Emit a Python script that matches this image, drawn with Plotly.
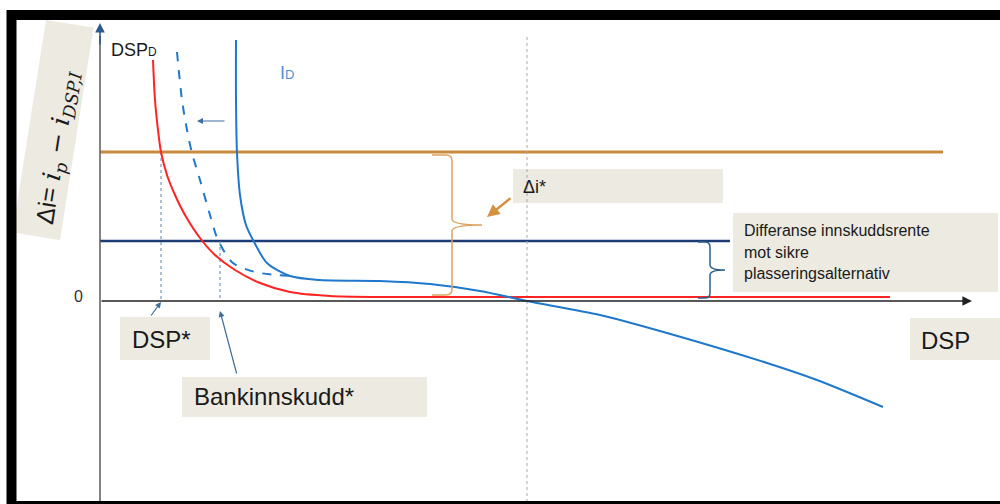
import plotly.graph_objects as go

# ---- data (DSP on x, Δi on y; arbitrary diagram units) ----
red_x = [53, 55, 58, 61, 67, 75, 85, 100, 115, 135, 160, 190, 230, 280, 790]
red_y = [241, 201, 171, 149, 126, 106, 86, 63, 46, 31, 18, 9, 5, 4, 4]
dash_x = [77, 82, 87, 92, 100, 110, 118, 133, 155, 177, 192]
dash_y = [249, 201, 171, 148, 121, 86, 61, 38, 29, 26, 25]
id_x = [136, 136, 137, 140, 146, 153, 167, 190, 220, 280, 330, 380, 427, 500, 567, 667, 717, 783]
id_y = [261, 201, 148, 106, 76, 61, 38, 25, 21, 20, 17, 10, 0, -14, -32, -62, -79, -106]
ip_level = 149
ip_end = 843
dep_level = 60
dep_end = 630
dsp_star = 61
bank_star = 120
mid_x = 427

X_RANGE = [-100, 900]
Y_RANGE = [-203, 301]

FONT = "Liberation Sans, Arial, sans-serif"
BEIGE = "#ECEAE1"
ORANGE = "#C98A3D"
ORANGE_L = "#DDA25F"
NAVY = "#1F3B73"
BLUE = "#1F78CC"
RED = "#FF2424"
STEEL = "#3F6E9C"

fig = go.Figure()

# reference lines
fig.add_trace(go.Scatter(x=[0, ip_end], y=[ip_level, ip_level], mode="lines",
                         line=dict(color=ORANGE, width=3), hoverinfo="skip"))
fig.add_trace(go.Scatter(x=[0, dep_end], y=[dep_level, dep_level], mode="lines",
                         line=dict(color=NAVY, width=2.5), hoverinfo="skip"))
fig.add_trace(go.Scatter(x=[mid_x, mid_x], y=[264, Y_RANGE[0]], mode="lines",
                         line=dict(color="#A8A8A8", width=1, dash="dot"), hoverinfo="skip"))
fig.add_trace(go.Scatter(x=[dsp_star, dsp_star], y=[ip_level, 0], mode="lines",
                         line=dict(color="#5A84B0", width=1, dash="dot"), hoverinfo="skip"))
fig.add_trace(go.Scatter(x=[bank_star, bank_star], y=[dep_level, 0], mode="lines",
                         line=dict(color="#5A84B0", width=1, dash="dot"), hoverinfo="skip"))

# curves
fig.add_trace(go.Scatter(x=red_x, y=red_y, mode="lines",
                         line=dict(color=RED, width=2, shape="spline", smoothing=0.8), hoverinfo="skip"))
fig.add_trace(go.Scatter(x=dash_x, y=dash_y, mode="lines",
                         line=dict(color=BLUE, width=2, dash="dash", shape="spline", smoothing=0.8),
                         hoverinfo="skip"))
fig.add_trace(go.Scatter(x=id_x, y=id_y, mode="lines",
                         line=dict(color=BLUE, width=2, shape="spline", smoothing=0.8), hoverinfo="skip"))


def brace(x, ybot, ytop, tip, stub, r=6):
    ymid = (ytop + ybot) / 2.0
    return (f"M {x-stub},{ytop} L {x-r},{ytop} Q {x},{ytop} {x},{ytop-r} "
            f"L {x},{ymid+r} Q {x},{ymid} {tip},{ymid} Q {x},{ymid} {x},{ymid-r} "
            f"L {x},{ybot+r} Q {x},{ybot} {x-r},{ybot} L {x-stub},{ybot}")


shapes = []
# tilted label box for the y-axis title
shapes.append(dict(type="path", xref="x", yref="y",
                   path="M -54,281 L -6.5,273.5 L -40,61 L -87.5,68.5 Z",
                   fillcolor=BEIGE, line=dict(width=0), layer="below"))
# beige boxes (below traces)
for (x0, x1, y0, y1) in [(413, 623, 98, 132), (633, 898, 9, 88), (810, 900, -59, -17),
                         (20, 110, -59, -16), (82, 327, -116, -76)]:
    shapes.append(dict(type="rect", xref="x", yref="y", x0=x0, x1=x1, y0=y0, y1=y1,
                       fillcolor=BEIGE, line=dict(width=0), layer="below"))
# braces
shapes.append(dict(type="path", xref="x", yref="y", path=brace(352, 6, 146, 382, 20),
                   line=dict(color=ORANGE_L, width=1.5)))
shapes.append(dict(type="path", xref="x", yref="y", path=brace(610, 3, 59, 625, 12, r=5),
                   line=dict(color="#2F5F8A", width=1.5)))
# y axis line
shapes.append(dict(type="line", xref="x", yref="y", x0=0, x1=0, y0=Y_RANGE[0], y1=265,
                   line=dict(color="#5A5A5A", width=1.5)))
# frame
shapes.append(dict(type="rect", xref="paper", yref="paper", x0=0.0115, x1=1.05,
                   y0=-0.004, y1=1 - 15 / 504, line=dict(color="black", width=10)))

ann = []
# x axis with arrow
ann.append(dict(x=872, y=0, ax=0, ay=0, xref="x", yref="y", axref="x", ayref="y", text="",
                showarrow=True, arrowhead=2, arrowsize=1.2, arrowwidth=1.6, arrowcolor="#222"))
# y axis arrow tip
ann.append(dict(x=0, y=278, ax=0, ay=255, xref="x", yref="y", axref="x", ayref="y", text="",
                showarrow=True, arrowhead=2, arrowsize=1.2, arrowwidth=1.6, arrowcolor="#2D5A8C"))
# small shift arrow
ann.append(dict(x=97, y=180, ax=126, ay=180, xref="x", yref="y", axref="x", ayref="y", text="",
                showarrow=True, arrowhead=2, arrowsize=1, arrowwidth=1.2, arrowcolor=STEEL))
# Δi* arrow
ann.append(dict(x=387, y=84, ax=412, ay=104, xref="x", yref="y", axref="x", ayref="y", text="",
                showarrow=True, arrowhead=2, arrowsize=1, arrowwidth=2.5, arrowcolor="#D4913F"))
# DSP* arrow
ann.append(dict(x=61, y=-1, ax=50, ay=-16, xref="x", yref="y", axref="x", ayref="y", text="",
                showarrow=True, arrowhead=2, arrowsize=1, arrowwidth=1.2, arrowcolor=STEEL))
# Bankinnskudd* arrow
ann.append(dict(x=120, y=-10, ax=137, ay=-74, xref="x", yref="y", axref="x", ayref="y", text="",
                showarrow=True, arrowhead=2, arrowsize=1, arrowwidth=1.2, arrowcolor=STEEL))


def txt(x, y, s, size, color="#1A1A1A", xanchor="left"):
    return dict(x=x, y=y, xref="x", yref="y", text=s, showarrow=False, xanchor=xanchor,
                yanchor="middle", font=dict(family=FONT, size=size, color=color))


ann.append(txt(-22, 5, "0", 16, "#333", "center"))
ann.append(txt(9, 251, "DSP<span style='font-size:12px'>D</span>", 18))
ann.append(txt(178, 228, "I<span style='font-size:13px'>D</span>", 18, "#4A90D9"))
ann.append(txt(421, 114, "Δi*", 18))
ann.append(txt(642, 71, "Differanse innskuddsrente", 16))
ann.append(txt(642, 49, "mot sikre", 16))
ann.append(txt(642, 28, "plasseringsalternativ", 16))
ann.append(txt(819, -39, "DSP", 24))
ann.append(txt(30, -38, "DSP*", 24))
ann.append(txt(92, -95, "Bankinnskudd*", 24))
# rotated y label text
ann.append(dict(x=-42, y=154, xref="x", yref="y", showarrow=False, textangle=-81,
                text="Δi= <span style='font-family:DejaVu Serif'><i>i<sub>p</sub></i> − "
                     "<i>i<sub>DSP,I</sub></i></span>",
                font=dict(family=FONT, size=25, color="#1A1A1A")))

fig.update_layout(
    width=1000, height=504,
    margin=dict(l=0, r=0, t=0, b=0, pad=0),
    paper_bgcolor="white", plot_bgcolor="white",
    showlegend=False,
    xaxis=dict(range=X_RANGE, visible=False, fixedrange=True),
    yaxis=dict(range=Y_RANGE, visible=False, fixedrange=True),
    shapes=shapes, annotations=ann,
)

fig.write_html("out.html", config={"displayModeBar": False},
               post_script="document.body.style.margin='0';document.body.style.overflow='hidden';")
